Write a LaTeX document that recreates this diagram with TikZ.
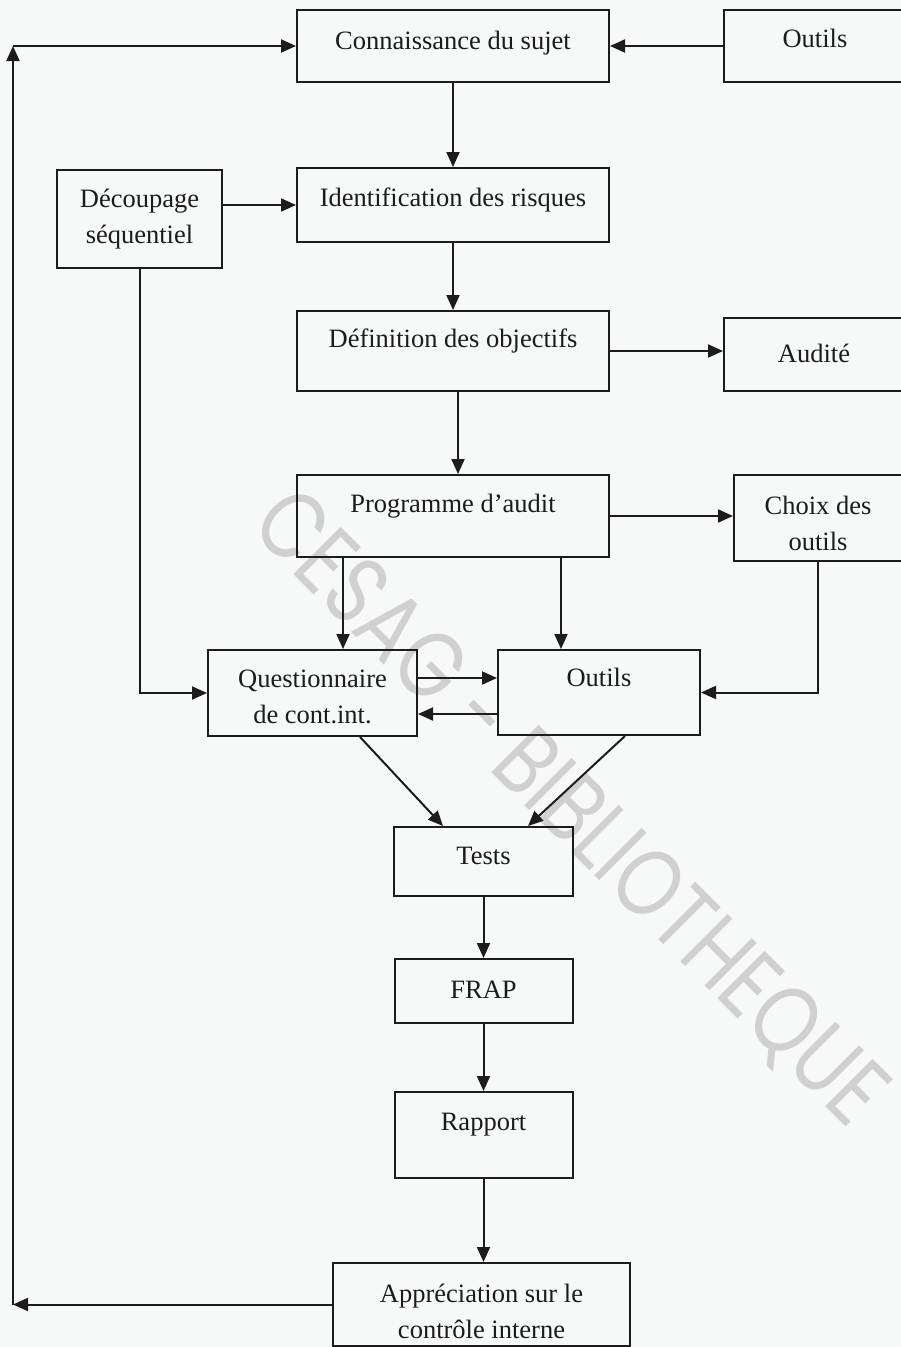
\documentclass[tikz,border=0pt]{standalone}
\usepackage{fontspec}
\setmainfont{Liberation Serif}
\newfontfamily\wmfont{Poppins}
\usetikzlibrary{arrows.meta}
\definecolor{paper}{RGB}{247,249,249}
\definecolor{ink}{RGB}{28,28,28}
\definecolor{wmgray}{RGB}{208,208,208}

\begin{document}
\begin{tikzpicture}[x=1pt,y=-1pt,
  box/.style={draw=ink, line width=2pt, inner sep=0pt},
  lbl/.style={font=\fontsize{26.5}{36}\selectfont, text=ink, align=center, inner sep=0pt},
  arr/.style={draw=ink, line width=2pt, -{Triangle[length=15pt,width=13pt]}},
  wm/.style={text=wmgray, inner sep=0pt, font=\wmfont\fontsize{96}{96}\selectfont}]

% page
\fill[paper] (0,0) rectangle (901,1347);
\useasboundingbox (0,0) rectangle (901,1347);
\clip (0,0) rectangle (901,1347);

% library stamp across the page
\node[wm, rotate=-45, xscale=0.8] (stamp) at (568,810) {CESAG - BIBLIOTHEQUE};

% boxes
\node[box, minimum width=312pt, minimum height=72pt] (conn)    at (453,46)    {};
\node[box, minimum width=182pt, minimum height=72pt] (outA)    at (815,46)    {};
\node[box, minimum width=165pt, minimum height=98pt] (decoup)  at (139.5,219) {};
\node[box, minimum width=312pt, minimum height=74pt] (ident)   at (453,205)   {};
\node[box, minimum width=312pt, minimum height=80pt] (defin)   at (453,351)   {};
\node[box, minimum width=180pt, minimum height=73pt] (audite)  at (814,354.5) {};
\node[box, minimum width=312pt, minimum height=82pt] (prog)    at (453,516)   {};
\node[box, minimum width=168pt, minimum height=86pt] (choix)   at (818,518)   {};
\node[box, minimum width=209pt, minimum height=86pt] (quest)   at (312.5,693) {};
\node[box, minimum width=202pt, minimum height=85pt] (outB)    at (599,692.5) {};
\node[box, minimum width=179pt, minimum height=69pt] (tests)   at (483.5,861.5) {};
\node[box, minimum width=178pt, minimum height=64pt] (frap)    at (483.5,991) {};
\node[box, minimum width=178pt, minimum height=86pt] (rapport) at (483.5,1135) {};
\node[box, minimum width=297pt, minimum height=83pt] (appr)    at (481.5,1304.5) {};

% labels
\node[lbl, anchor=base] (conn-t)    at (453,49)   {Connaissance du sujet};
\node[lbl, anchor=base] (outA-t)    at (815,47)   {Outils};
\node[lbl]              (decoup-t)  at (139.5,219) {Découpage\\séquentiel};
\node[lbl, anchor=base] (ident-t)   at (453,206)  {Identification des risques};
\node[lbl, anchor=base] (defin-t)   at (453,347)  {Définition des objectifs};
\node[lbl, anchor=base] (audite-t)  at (814,362)  {Audité};
\node[lbl, anchor=base] (prog-t)    at (453,512)  {Programme d’audit};
\node[lbl]              (choix-t)   at (818,523)  {Choix des\\outils};
\node[lbl]              (quest-t)   at (312.5,697) {Questionnaire\\de cont.int.};
\node[lbl, anchor=base] (outB-t)    at (599,686)  {Outils};
\node[lbl, anchor=base] (tests-t)   at (483.5,864) {Tests};
\node[lbl, anchor=base] (frap-t)    at (483.5,998) {FRAP};
\node[lbl, anchor=base] (rapport-t) at (483.5,1130) {Rapport};
\node[lbl]              (appr-t)    at (481.5,1311) {Appréciation sur le\\contrôle interne};

% columns and rows used by the connectors
\coordinate (colQ)  at (343,0);
\coordinate (colO)  at (561,0);
\coordinate (rowQO) at (0,678);
\coordinate (rowOQ) at (0,714);
\coordinate (fbB)   at (13,1304.5);
\coordinate (fbT)   at (13,46);

% main chain
\draw[arr] (outA.west) -- (conn.east);
\draw[arr] (conn.south) -- (ident.north);
\draw[arr] (decoup.east |- ident.west) -- (ident.west);
\draw[arr] (ident.south) -- (defin.north);
\draw[arr] (defin.east) -- (defin.east -| audite.west);
\draw[arr] ([xshift=5pt]defin.south) -- ([xshift=5pt]prog.north);
\draw[arr] (prog.east) -- (prog.east -| choix.west);
\draw[arr] (prog.south -| colQ) -- (quest.north -| colQ);
\draw[arr] (prog.south -| colO) -- (outB.north -| colO);
\draw[arr] (choix.south) |- (outB.east);
\draw[arr] (decoup.south) |- (quest.west);
\draw[arr] (quest.east |- rowQO) -- (outB.west |- rowQO);
\draw[arr] (outB.west |- rowOQ) -- (quest.east |- rowOQ);
\draw[arr] ([xshift=47.5pt]quest.south) -- ([xshift=-40.5pt]tests.north);
\draw[arr] ([xshift=26pt]outB.south) -- ([xshift=44.5pt]tests.north);
\draw[arr] (tests.south) -- (frap.north);
\draw[arr] (frap.south) -- (rapport.north);
\draw[arr] (rapport.south) -- (rapport.south |- appr.north);

% feedback loop
\draw[arr] (appr.west) -- (fbB);
\draw[arr] (fbB) -- (fbT);
\draw[arr] (fbT) -- (conn.west);
\end{tikzpicture}
\end{document}
